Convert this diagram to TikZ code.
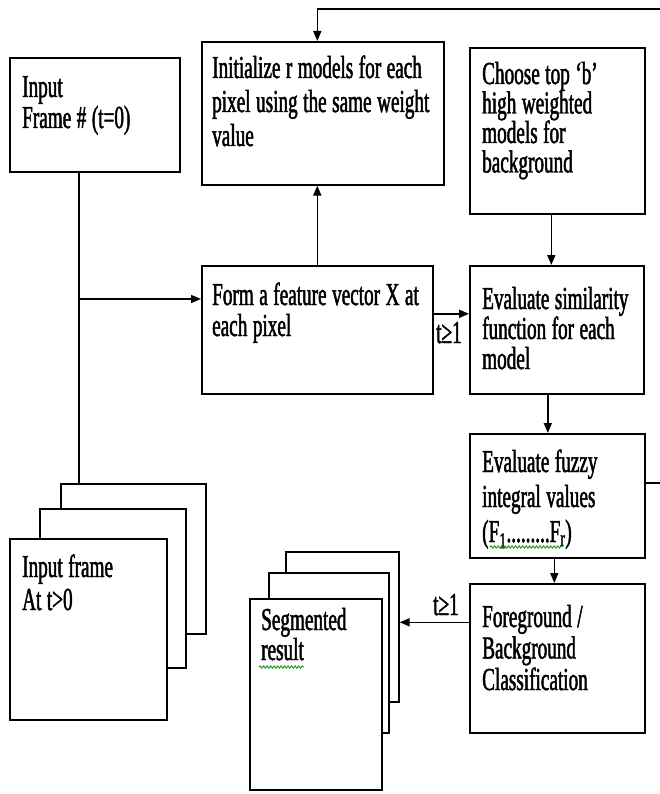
\documentclass[tikz,border=0pt]{standalone}
\usepackage{fontspec}
\setmainfont{Liberation Serif}[FakeStretch=0.6, FakeBold=1.5]
\usetikzlibrary{arrows.meta,decorations.pathmorphing,calc}
\begin{document}
\begin{tikzpicture}[x=1pt,y=-1pt,
  frame/.style={draw, line width=1.6pt, fill=white, inner sep=0pt, anchor=north west},
  txt/.style={anchor=base west, inner sep=0pt, align=left, text width=#1,
    execute at begin node={\spaceskip=5.5pt plus 1pt minus 1pt\relax}},
  fs/.style={font=\fontsize{32}{#1}\selectfont},
  conn/.style={line width=1.6pt},
  arr/.style={conn, -{Triangle[length=10pt,width=8pt]}},
  lbl/.style={anchor=base west, inner sep=0pt, font=\fontsize{32}{32}\selectfont},
  squig/.style={draw=green!55!black, line width=0.8pt, decorate, decoration={snake, amplitude=1.2pt, segment length=3.5pt}}
]
\useasboundingbox (0,0) rectangle (660,794);
\clip (0,0) rectangle (660,794);

% main boxes
\node[frame, minimum width=170pt, minimum height=114pt] (inp) at (9,57) {};
\node[frame, minimum width=242pt, minimum height=143pt] (init) at (201,41) {};
\node[frame, minimum width=175pt, minimum height=166pt] (choose) at (469,47) {};
\node[frame, minimum width=231pt, minimum height=128pt] (form) at (201,265) {};
\node[frame, minimum width=174pt, minimum height=128pt] (sim) at (469,265) {};
\node[frame, minimum width=175pt, minimum height=124pt] (fuzzy) at (469,433) {};
\node[frame, minimum width=175pt, minimum height=149pt] (fg) at (469,583) {};

% input frame stack
\node[frame, minimum width=145pt, minimum height=150pt] (frB) at (60,483) {};
\node[frame, minimum width=146pt, minimum height=159pt] (frM) at (39,508) {};
\node[frame, minimum width=157pt, minimum height=181pt] (frF) at (9,538) {};

% segmented stack
\node[frame, minimum width=113pt, minimum height=150pt] (sgB) at (285,551) {};
\node[frame, minimum width=120pt, minimum height=160pt] (sgM) at (268,572) {};
\node[frame, minimum width=132pt, minimum height=191pt] (sgF) at (249,598) {};

% texts
\node[txt=150pt, fs=31] (inp-t) at (22,97) {Input\\Frame \# (t=0)};
\node[txt=230pt, fs=34] (init-t) at (212,78) {Initialize r models for each\\pixel using the same weight\\value};
\node[txt=160pt, fs=29.5] (choose-t) at (482,84) {Choose top ‘b’\\high weighted\\models for\\background};
\node[txt=220pt, fs=31] (form-t) at (212,305) {Form a feature vector X at\\each pixel};
\node[txt=165pt, fs=30] (sim-t) at (482,309) {Evaluate similarity\\function for each\\model};
\node[txt=160pt, fs=35] (fuzzy-t) at (482,472) {Evaluate fuzzy\\integral values\\(F\textsubscript{1}.........F\textsubscript{r})};
\node[txt=160pt, fs=31.5] (fg-t) at (482,627) {Foreground /\\Background\\Classification};
\node[txt=140pt, fs=33] (fr-t) at (22,577) {Input frame\\At t>0};
\node[txt=120pt, fs=30] (sg-t) at (261,630) {Segmented\\result};

% spell-check squiggles
\path[squig] (490,547) -- (563,547);
\path[squig] (259,667) -- (304,667);

% connectors
\coordinate (vtop) at ([xshift=-16pt]inp.south);
\coordinate (fy) at ([yshift=-34pt]form.north west);
\draw[conn] (vtop) -- (vtop |- frB.north);
\draw[arr] (vtop |- fy) -- (fy);
\draw[arr] (form.north) -- (form.north |- init.south);
\draw[arr] ([yshift=16pt]form.east) -- ([yshift=16pt]form.east -| sim.west);
\node[lbl] (t1a) at (436,343) {t≥1};
\draw[arr] ([xshift=-6pt]choose.south) -- ([xshift=-6pt]choose.south |- sim.north);
\draw[arr] ([xshift=-9pt]sim.south) -- ([xshift=-9pt]sim.south |- fuzzy.north);
\draw[arr] ([xshift=-3pt]fuzzy.south) -- ([xshift=-3pt]fuzzy.south |- fg.north);
\draw[arr] ([yshift=36pt]fg.west) -- ([yshift=36pt]fg.west -| sgB.east);
\node[lbl] (t1b) at (433,615) {t≥1};
\coordinate (topR) at (700,9);
\draw[arr] ([yshift=13pt]fuzzy.east) -| (topR) -| (form.north |- init.north);
\end{tikzpicture}
\end{document}
